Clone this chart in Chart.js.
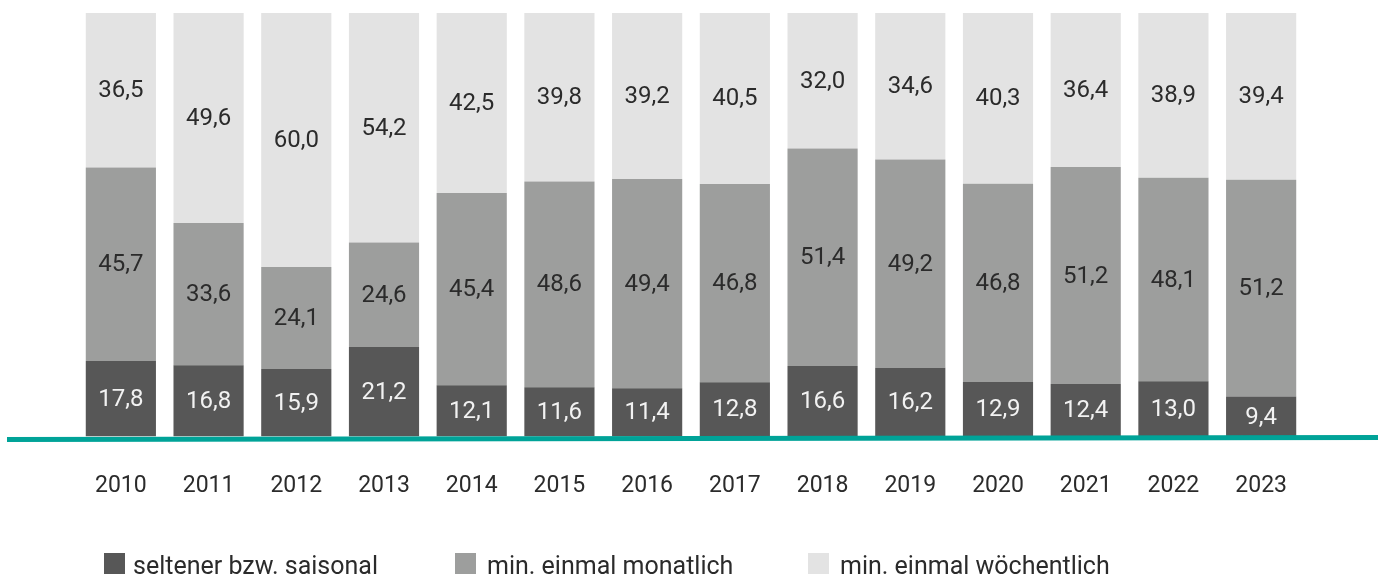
<!DOCTYPE html>
<html>
<head>
<meta charset="utf-8">
<script src="https://cdn.jsdelivr.net/npm/chart.js@4"></script>
<style>
  html, body { margin: 0; padding: 0; background: #fff; }
  #wrap { position: relative; width: 1387px; height: 574px; overflow: hidden; }
  canvas { display: block; }
  .leg { position: absolute; top: 553px; font: 25px Roboto, sans-serif; color: #2b2b2b; line-height: 25px; white-space: nowrap; }
  .leg span { display: inline-block; width: 21px; height: 24px; vertical-align: top; margin-top: 0; }
  .leg b { font-weight: 400; }
</style>
</head>
<body>
<div id="wrap">
  <canvas id="chart" width="1387" height="574"></canvas>
  <div class="leg" style="left:104px"><span style="background:#575757"></span><b style="margin-left:8px">seltener bzw. saisonal</b></div>
  <div class="leg" style="left:455px"><span style="background:#9d9e9d"></span><b style="margin-left:11px">min. einmal monatlich</b></div>
  <div class="leg" style="left:808px"><span style="background:#e3e3e3"></span><b style="margin-left:11px">min. einmal wöchentlich</b></div>
</div>
<script>
const years = ['2010', '2011', '2012', '2013', '2014', '2015', '2016', '2017', '2018', '2019', '2020', '2021', '2022', '2023'];
const seltener = [17.8, 16.8, 15.9, 21.2, 12.1, 11.6, 11.4, 12.8, 16.6, 16.2, 12.9, 12.4, 13.0, 9.4];
const monatlich = [45.7, 33.6, 24.1, 24.6, 45.4, 48.6, 49.4, 46.8, 51.4, 49.2, 46.8, 51.2, 48.1, 51.2];
const woechentlich = [36.5, 49.6, 60.0, 54.2, 42.5, 39.8, 39.2, 40.5, 32.0, 34.6, 40.3, 36.4, 38.9, 39.4];

const FONT = 'Roboto, sans-serif';

// value labels in the middle of each segment
const segmentLabels = {
  id: 'segmentLabels',
  afterDatasetsDraw(chart) {
    const ctx = chart.ctx;
    ctx.save();
    ctx.font = '24px ' + FONT;
    ctx.textAlign = 'center';
    ctx.textBaseline = 'middle';
    chart.data.datasets.forEach((ds, i) => {
      const meta = chart.getDatasetMeta(i);
      meta.data.forEach((bar, j) => {
        ctx.fillStyle = i === 0 ? '#f2f2f2' : '#2b2b2b';
        const y = (bar.y + bar.base) / 2;
        ctx.fillText(ds.data[j].toFixed(1).replace('.', ','), bar.x, y + 1);
      });
    });
    ctx.restore();
  }
};

// teal base line running across the whole width
const baseLine = {
  id: 'baseLine',
  afterDatasetsDraw(chart) {
    const ctx = chart.ctx;
    const y0 = chart.scales.y.getPixelForValue(0);
    ctx.save();
    ctx.strokeStyle = '#00a398';
    ctx.lineWidth = 5;
    ctx.beginPath();
    ctx.moveTo(7, y0 + 3);
    ctx.lineTo(1378, y0 + 1);
    ctx.stroke();
    ctx.restore();
  }
};

new Chart(document.getElementById('chart'), {
  type: 'bar',
  data: {
    labels: years,
    datasets: [
      { label: 'seltener bzw. saisonal', data: seltener, backgroundColor: '#575757' },
      { label: 'min. einmal monatlich', data: monatlich, backgroundColor: '#9d9e9d' },
      { label: 'min. einmal wöchentlich', data: woechentlich, backgroundColor: '#e3e3e3' }
    ]
  },
  options: {
    responsive: false,
    animation: false,
    layout: { padding: { left: 77, right: 82, top: 13, bottom: 46 } },
    datasets: { bar: { categoryPercentage: 1, barPercentage: 0.8 } },
    plugins: { legend: { display: false }, tooltip: { enabled: false } },
    scales: {
      x: {
        stacked: true,
        grid: { display: false },
        border: { display: false },
        ticks: { color: '#2b2b2b', font: { family: FONT, size: 23 }, padding: 28 }
      },
      y: {
        stacked: true,
        display: false,
        min: 0,
        max: 100
      }
    }
  },
  plugins: [segmentLabels, baseLine]
});
</script>
</body>
</html>
